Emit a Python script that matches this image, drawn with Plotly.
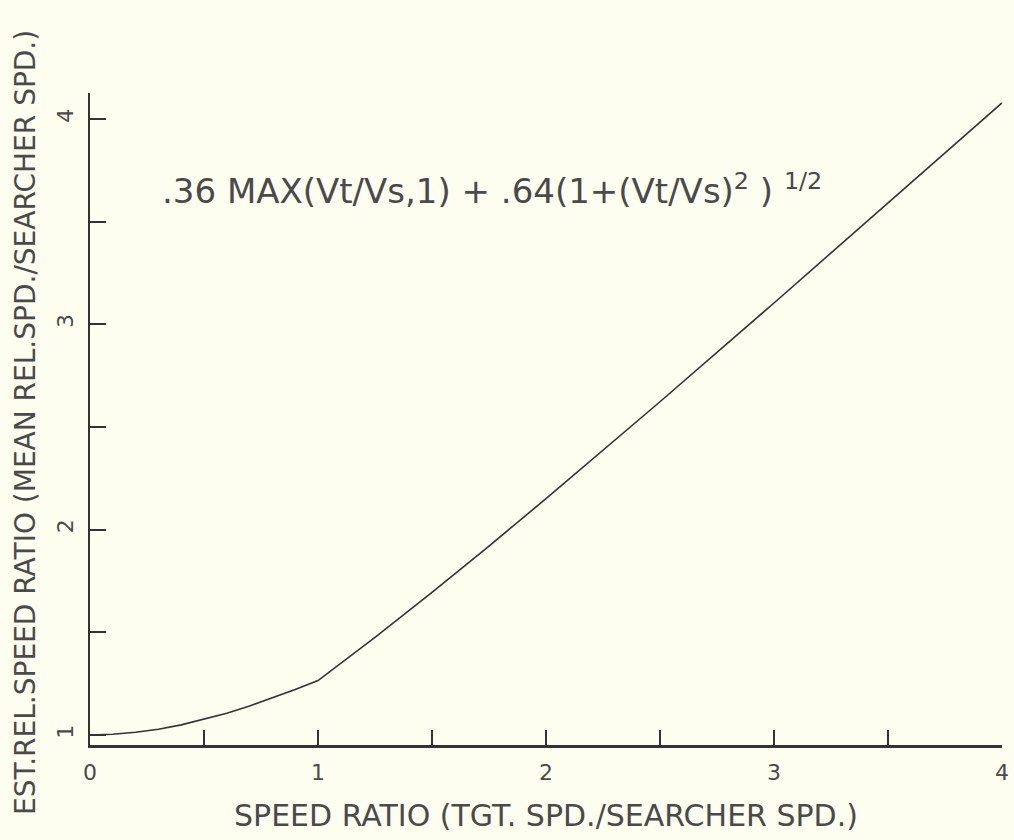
import plotly.graph_objects as go

# Data
speed_ratio = [0.0, 0.1, 0.2, 0.3, 0.4, 0.5, 0.6, 0.7, 0.8, 0.9, 1.0,
               1.25, 1.5, 1.75, 2.0, 2.5, 3.0, 3.5, 4.0]
rel_speed = [1.000, 1.003, 1.013, 1.028, 1.049, 1.076, 1.106, 1.141, 1.180, 1.221, 1.265,
             1.475, 1.694, 1.920, 2.151, 2.623, 3.104, 3.590, 4.079]

x_tickvals = [0, 0.5, 1, 1.5, 2, 2.5, 3, 3.5, 4]
x_ticktext = ["0", "", "1", "", "2", "", "3", "", "4"]
y_tickvals = [1, 1.5, 2, 2.5, 3, 3.5, 4]
y_ticktext = ["1", "", "2", "", "3", "", "4"]

x_title = "SPEED RATIO (TGT. SPD./SEARCHER SPD.)"
y_title = "EST.REL.SPEED RATIO (MEAN REL.SPD./SEARCHER SPD.)"
formula = ".36 MAX(Vt/Vs,1) + .64(1+(Vt/Vs)<sup>2</sup> ) <sup>1/2</sup>"

BG = "#FDFDF0"
INK = "#333333"
TXT = "#4a4a4a"
FONT = "DejaVu Sans"

fig = go.Figure()
fig.add_trace(go.Scatter(x=speed_ratio, y=rel_speed, mode="lines",
                         line=dict(color=INK, width=1.6), showlegend=False))

fig.update_layout(
    width=1014, height=840, autosize=False,
    margin=dict(l=90, r=12, t=93, b=95, pad=0),
    paper_bgcolor=BG, plot_bgcolor=BG,
    font=dict(family=FONT, color=TXT),
    xaxis=dict(range=[0, 4], tickvals=x_tickvals, ticktext=x_ticktext,
               ticks="inside", ticklen=15, tickwidth=1.5, tickcolor=INK,
               showline=True, linecolor=INK, linewidth=3, automargin=False,
               showgrid=False, zeroline=False, ticklabelstandoff=6,
               tickfont=dict(size=22, color=TXT, family=FONT)),
    yaxis=dict(range=[0.951, 4.127], tickvals=y_tickvals, ticktext=y_ticktext,
               ticks="inside", ticklen=16, tickwidth=1.5, tickcolor=INK,
               showline=True, linecolor=INK, linewidth=2, automargin=False,
               showgrid=False, zeroline=False, tickangle=-90, ticklabelstandoff=6,
               tickfont=dict(size=22, color=TXT, family=FONT)),
    annotations=[
        dict(text=x_title, xref="paper", yref="paper", x=0.5, y=-0.108,
             xanchor="center", yanchor="middle", showarrow=False,
             font=dict(size=30, color=TXT, family=FONT)),
        dict(text=y_title, xref="paper", yref="paper", x=-0.0715, y=0.495,
             xanchor="center", yanchor="middle", showarrow=False, textangle=-90,
             font=dict(size=28, color=TXT, family=FONT)),
        dict(text=formula, xref="x", yref="y", x=0.307, y=3.66,
             xanchor="left", yanchor="middle", showarrow=False,
             font=dict(size=34, color=TXT, family=FONT)),
    ],
)

fig.write_html("out.html", config={"displayModeBar": False},
               post_script="document.body.style.margin='0';document.body.style.overflow='hidden';")
